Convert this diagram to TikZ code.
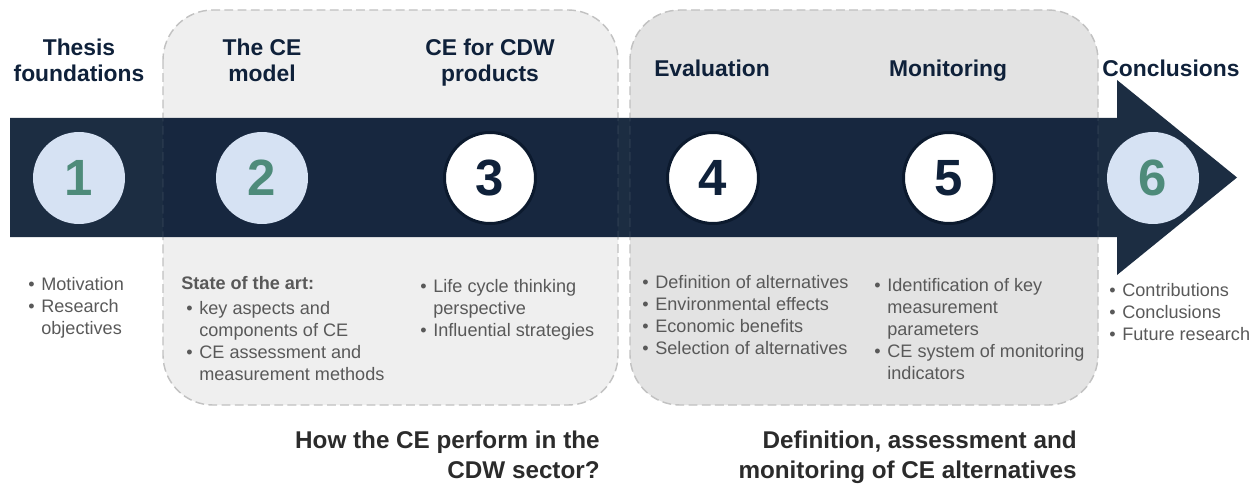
\documentclass[tikz,border=0pt]{standalone}
\usepackage{fontspec}
\setmainfont{Liberation Sans}
\definecolor{navy}{HTML}{0F213A}
\definecolor{bandout}{HTML}{1C2D42}
\definecolor{bandin}{HTML}{17273F}
\definecolor{boxa}{HTML}{EFEFEF}
\definecolor{boxb}{HTML}{E3E3E3}
\definecolor{dashc}{HTML}{BDBDBD}
\definecolor{lblue}{HTML}{D6E2F3}
\definecolor{numteal}{HTML}{4E8B7A}
\definecolor{ringc}{HTML}{0C1A2E}
\definecolor{bodytext}{HTML}{595959}
\definecolor{qtext}{HTML}{2B2B2B}
\newcommand\bul{\makebox[7.4pt][l]{\textbullet}}
\newcommand\hang{\hspace*{7.4pt}}
\begin{document}
\begin{tikzpicture}[x=0.02cm,y=-0.02cm,
  boxframe/.style={draw=dashc, line width=0.8pt, dash pattern=on 5pt off 2.5pt, rounded corners=1cm},
  boxghost/.style={draw=white, draw opacity=0.08, line width=0.8pt, dash pattern=on 5pt off 2.5pt, rounded corners=1cm},
  numsoft/.style={circle, fill=lblue, minimum size=1.84cm, inner sep=0pt,
    font=\fontsize{29}{29}\selectfont\bfseries, text=numteal},
  numring/.style={circle, fill=white, draw=ringc, line width=1.7pt, minimum size=1.82cm, inner sep=0pt,
    font=\fontsize{29}{29}\selectfont\bfseries, text=navy},
  title/.style={font=\fontsize{13}{15.3}\selectfont\bfseries, text=navy, align=center, inner sep=0pt, anchor=base},
  bullets/.style={font=\fontsize{10.3}{12.4}\selectfont, text=bodytext, align=left, inner sep=0pt, anchor=base west},
  question/.style={font=\fontsize{13.8}{16.6}\selectfont\bfseries, text=qtext, align=right, inner sep=0pt, anchor=base east}
]
\useasboundingbox (0,0) rectangle (1260,486);

% phase panels
\draw[boxframe, fill=boxa] (163,10) rectangle (618,405);
\draw[boxframe, fill=boxb] (630,10) rectangle (1098,405);

% timeline arrow
\fill[bandout] (10,118) -- (1117,118) -- (1117,80) -- (1237,177.5) -- (1117,275) -- (1117,237) -- (10,237) -- cycle;
\fill[bandin] (163,118) rectangle (618,237);
\fill[bandin] (630,118) rectangle (1098,237);
\draw[boxghost] (163,10) rectangle (618,405);
\draw[boxghost] (630,10) rectangle (1098,405);

% stage markers
\node[numsoft] (c1) at (79,178) {1};
\node[numsoft] (c2) at (262,178) {2};
\node[numring] (c3) at (490,178) {3};
\node[numring] (c4) at (713,178) {4};
\node[numring] (c5) at (949,178) {5};
\node[numsoft] (c6) at (1153,178) {6};

% stage titles (anchored on the baseline of the last line)
\node[title] (t1) at (79,82) {Thesis\\foundations};
\node[title] (t2) at (262,82) {The CE\\model};
\node[title] (t3) at (490,82) {CE for CDW\\products};
\node[title] (t4) at (712,77) {Evaluation};
\node[title] (t5) at (948,77) {Monitoring};
\node[title] (t6) at (1171,77) {Conclusions};

% stage contents
\node[bullets] (l1) at (28,334) {\bul Motivation\\ \bul Research\\ \hang objectives};
\node[bullets, font=\fontsize{10.3}{12.4}\selectfont\bfseries] (h2) at (181,289) {State of the art:};
\node[bullets] (l2) at (186,380) {\bul key aspects and\\ \hang components of CE\\ \bul CE assessment and\\ \hang measurement methods};
\node[bullets] (l3) at (420,336) {\bul Life cycle thinking\\ \hang perspective\\ \bul Influential strategies};
\node[bullets] (l4) at (642,354) {\bul Definition of alternatives\\ \bul Environmental effects\\ \bul Economic benefits\\ \bul Selection of alternatives};
\node[bullets] (l5) at (874,379) {\bul Identification of key\\ \hang measurement\\ \hang parameters\\ \bul CE system of monitoring\\ \hang indicators};
\node[bullets] (l6) at (1109,340) {\bul Contributions\\ \bul Conclusions\\ \bul Future research};

% research questions
\node[question] (q1) at (600,478) {How the CE perform in the\\CDW sector?};
\node[question] (q2) at (1077,478) {Definition, assessment and\\monitoring of CE alternatives};
\end{tikzpicture}
\end{document}
